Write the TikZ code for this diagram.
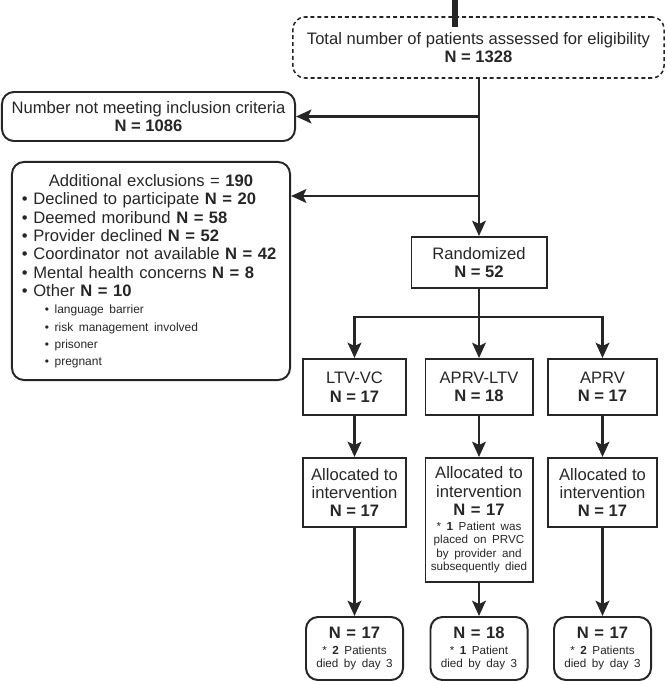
\documentclass[tikz,border=0pt]{standalone}
\usepackage{fontspec}
\setmainfont{Liberation Sans}
\usepackage{tikz}
\usetikzlibrary{arrows.meta}
\setlength{\parindent}{0pt}
\definecolor{ink}{HTML}{262626}
\newcommand{\bigtxt}{\fontsize{11.8}{13.1}\selectfont}
\newcommand{\smalltxt}{\fontsize{8.3}{9.5}\selectfont}
\newcommand{\subtxt}{\fontsize{8.5}{12.2}\selectfont}

\begin{document}
\begin{tikzpicture}[
      x=0.025cm, y=-0.025cm,
      >={Stealth[length=0.38cm,width=0.34cm,inset=0.08cm]},
      font=\bigtxt, color=ink,
      flow/.style={->,line width=2.1pt},
      trunk line/.style={line width=2.1pt},
      plain box/.style={draw,line width=1.4pt,align=center,inner sep=0pt},
      round box/.style={plain box,rounded corners=0.3cm},
      dash box/.style={plain box,rounded corners=0.3cm,line width=1.1pt,dash pattern=on 2.8pt off 2.1pt},
      arm box/.style={plain box,minimum height=1.4cm},
      alloc box/.style={plain box,minimum height=1.725cm},
      outcome box/.style={round box,minimum width=2.425cm,minimum height=1.575cm,text width=2.3cm}
      ]
      \useasboundingbox (0,0) rectangle (666,681);
      % screening
      \node [dash box,minimum width=9.275cm,minimum height=1.525cm] (total) at (478.5,47.5)
        {Total number of patients assessed for eligibility\\ \textbf{N = 1328}};
      \node [round box,minimum width=7.325cm,minimum height=1.225cm] (notmeet) at (148.5,116.5)
        {Number not meeting inclusion criteria\\ \textbf{N = 1086}};
      \node [round box,minimum width=6.95cm,minimum height=5.45cm,text width=6.45cm,align=left] (addexcl) at (151,271) {%
        {\centering Additional exclusions = \textbf{190}\par}
        \raggedright
        \textbullet\ Declined to participate \textbf{N = 20}\par
        \textbullet\ Deemed moribund \textbf{N = 58}\par
        \textbullet\ Provider declined \textbf{N = 52}\par
        \textbullet\ Coordinator not available \textbf{N = 42}\par
        \textbullet\ Mental health concerns \textbf{N = 8}\par
        \textbullet\ Other \textbf{N = 10}\par
        \subtxt\leftskip=0.575cm
        \textbullet\ language barrier\par
        \textbullet\ risk management involved\par
        \textbullet\ prisoner\par
        \textbullet\ pregnant\par};
      % randomization
      \node [plain box,minimum width=3.375cm,minimum height=1.275cm] (rand) at (479,262.5)
        {Randomized\\ \textbf{N = 52}};
      % arms
      \node [arm box,minimum width=2.575cm] (ltvvc) at (354.5,387) {LTV-VC\\ \textbf{N = 17}};
      \node [arm box,minimum width=2.675cm] (aprvltv) at (479,387) {APRV-LTV\\ \textbf{N = 18}};
      \node [arm box,minimum width=2.725cm] (aprv) at (602.5,387) {APRV\\ \textbf{N = 17}};
      % allocation
      \node [alloc box,minimum width=2.575cm] (alloc1) at (354.5,492.5)
        {Allocated to\\ intervention\\ \textbf{N = 17}};
      \node [plain box,minimum width=2.675cm,minimum height=3.1cm,text width=2.6cm] (alloc2) at (479,520) {%
        \centering Allocated to\par intervention\par \textbf{N = 17}\par
        \vspace{1pt}\smalltxt * \textbf{1} Patient was\par placed on PRVC\par by provider and\par subsequently died\par};
      \node [alloc box,minimum width=2.725cm] (alloc3) at (602.5,492.5)
        {Allocated to\\ intervention\\ \textbf{N = 17}};
      % outcome
      \node [outcome box] (out1) at (354.5,648.5)
        {\centering\textbf{N = 17}\par\vspace{1.5pt}\smalltxt * \textbf{2} Patients\par died by day 3\par};
      \node [outcome box] (out2) at (479,648.5)
        {\centering\textbf{N = 18}\par\vspace{1.5pt}\smalltxt * \textbf{1} Patient\par died by day 3\par};
      \node [outcome box] (out3) at (602.5,648.5)
        {\centering\textbf{N = 17}\par\vspace{1.5pt}\smalltxt * \textbf{2} Patients\par died by day 3\par};
      % arrows
      \coordinate (stub top) at (455,0);
      \coordinate (stub end) at (455,27);
      \draw [line width=4.2pt] (stub top) -- (stub end);
      \draw [flow] (total.south -| rand.north) -- (rand.north);
      \draw [flow] (notmeet.east -| rand.north) -- (notmeet.east);
      \coordinate (excl split) at (479,196);
      \draw [flow] (excl split) -- (excl split -| addexcl.east);
      \coordinate (arm split) at (479,317);
      \draw [trunk line] (rand.south) -- (arm split);
      \draw [flow] (arm split) -| (ltvvc.north);
      \draw [flow] (arm split) -- (aprvltv.north);
      \draw [flow] (arm split) -| (aprv.north);
      \draw [flow] (ltvvc.south) -- (alloc1.north);
      \draw [flow] (aprvltv.south) -- (alloc2.north);
      \draw [flow] (aprv.south) -- (alloc3.north);
      \draw [flow] (alloc1.south) -- (out1.north);
      \draw [flow] (alloc2.south) -- (out2.north);
      \draw [flow] (alloc3.south) -- (out3.north);
\end{tikzpicture}
\end{document}
